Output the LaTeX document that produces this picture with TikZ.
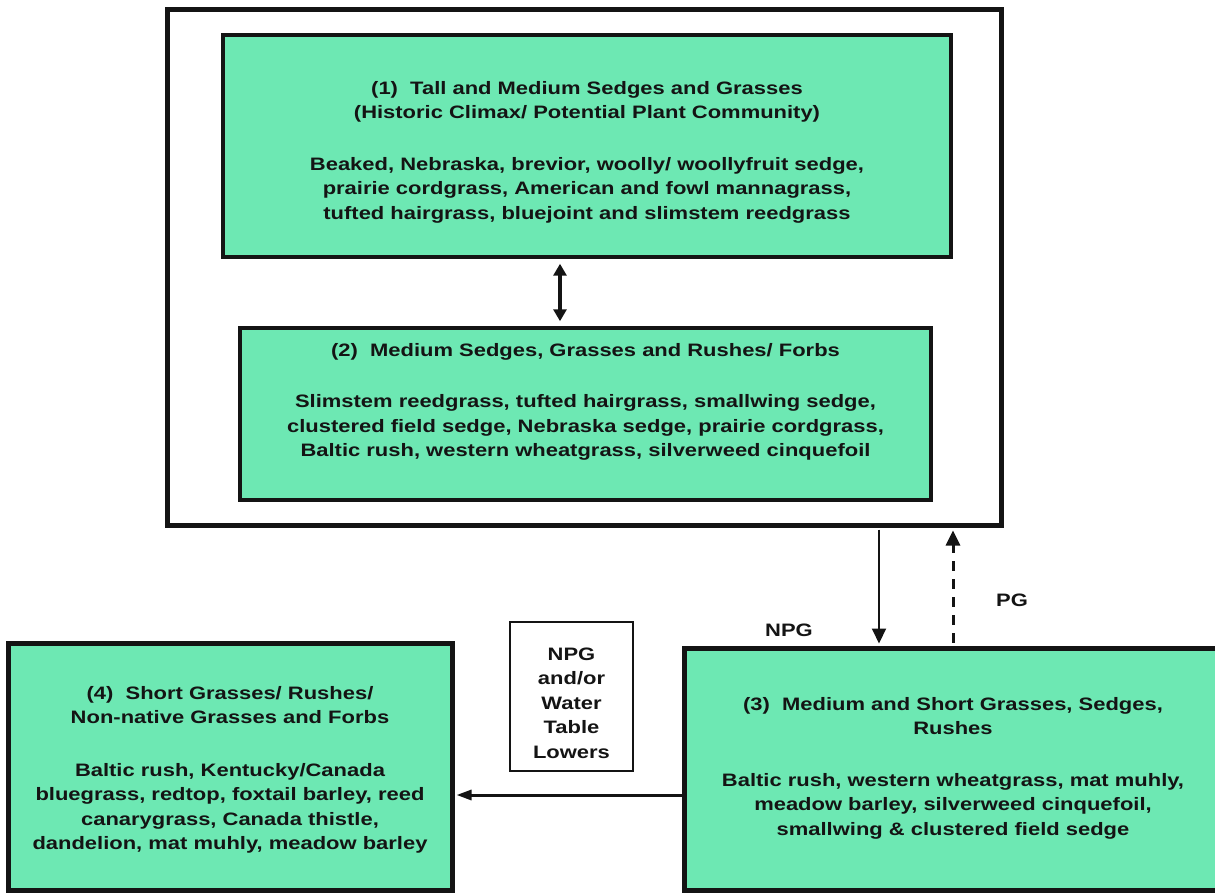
\documentclass[tikz,border=0pt]{standalone}
\usepackage{fontspec}
\setmainfont{Liberation Sans}[FakeStretch=1.22]
\usetikzlibrary{arrows.meta}
\definecolor{mint}{HTML}{6DE8B3}
\definecolor{ink}{HTML}{141414}
\begin{document}
\begin{tikzpicture}[x=1pt,y=-1pt]
\tikzset{
  box/.style={draw=ink, fill=mint, inner sep=0pt, rectangle},
  txt/.style={align=center, inner sep=0pt, text=ink,
    font=\fontsize{18}{24.5}\selectfont\bfseries},
  lbl/.style={inner sep=0pt, text=ink, font=\fontsize{18}{22}\selectfont\bfseries},
  arr/.style={draw=ink, -{Triangle[length=15pt,width=14pt]}},
}
\useasboundingbox (0,0) rectangle (1215,893);
\fill[white] (0,0) rectangle (1215,893);

% outer frame
\node[draw=ink, line width=5pt, inner sep=0pt, minimum width=834pt, minimum height=515pt] (outer) at (584,267.5) {};

% box 1
\node[box, line width=3.5pt, minimum width=728pt, minimum height=222pt] (b1) at (587,146) {};
\node[txt] (t1) at (587,152) {(1)\ \ Tall and Medium Sedges and Grasses\\
(Historic Climax/ Potential Plant Community)\\[27pt]
Beaked, Nebraska, brevior, woolly/ woollyfruit sedge,\\
prairie cordgrass, American and fowl mannagrass,\\
tufted hairgrass, bluejoint and slimstem reedgrass};

% box 2
\node[box, line width=3.5pt, minimum width=691pt, minimum height=172pt] (b2) at (585.5,414) {};
\node[txt] (t2) at (585.5,402) {(2)\ \ Medium Sedges, Grasses and Rushes/ Forbs\\[27pt]
Slimstem reedgrass, tufted hairgrass, smallwing sedge,\\
clustered field sedge, Nebraska sedge, prairie cordgrass,\\
Baltic rush, western wheatgrass, silverweed cinquefoil};

% box 3
\node[box, line width=5pt, minimum width=538pt, minimum height=242pt] (b3) at (953,769) {};
\node[txt] (t3) at (953,768) {(3)\ \ Medium and Short Grasses, Sedges,\\
Rushes\\[27pt]
Baltic rush, western wheatgrass, mat muhly,\\
meadow barley, silverweed cinquefoil,\\
smallwing \& clustered field sedge};

% box 4
\node[box, line width=5pt, minimum width=444pt, minimum height=247pt] (b4) at (230,766.5) {};
\node[txt] (t4) at (230,770) {(4)\ \ Short Grasses/ Rushes/\\
Non-native Grasses and Forbs\\[28pt]
Baltic rush, Kentucky/Canada\\
bluegrass, redtop, foxtail barley, reed\\
canarygrass, Canada thistle,\\
dandelion, mat muhly, meadow barley};

% small label box
\node[draw=ink, line width=1.5pt, fill=white, inner sep=0pt, minimum width=123pt, minimum height=149pt] (sb) at (571.5,696.5) {};
\node[txt] (ts) at (571.5,703) {NPG\\ and/or\\ Water\\ Table\\ Lowers};

% connectors
\coordinate (xd) at (560,0);
\coordinate (xn) at (879,0);
\coordinate (xp) at (953,0);
\coordinate (yh) at (0,795);

\draw[draw=ink, line width=4pt, {Triangle[length=12pt,width=13pt]}-{Triangle[length=12pt,width=13pt]},
  shorten <=5pt, shorten >=5pt] (b1.south -| xd) -- (b2.north -| xd);
\draw[arr, line width=2pt, shorten <=2pt, shorten >=2pt] (outer.south -| xn) -- (b3.north -| xn);
\draw[arr, line width=3pt, dash pattern=on 10pt off 8pt, shorten <=3pt, shorten >=3pt] (b3.north -| xp) -- (outer.south -| xp);
\draw[draw=ink, line width=3pt, -{Triangle[length=15pt,width=10pt]}, shorten >=2pt] (b3.west |- yh) -- (b4.east |- yh);

\node[lbl] (npg) at (789,630) {NPG};
\node[lbl] (pg) at (1012,600) {PG};
\end{tikzpicture}
\end{document}
